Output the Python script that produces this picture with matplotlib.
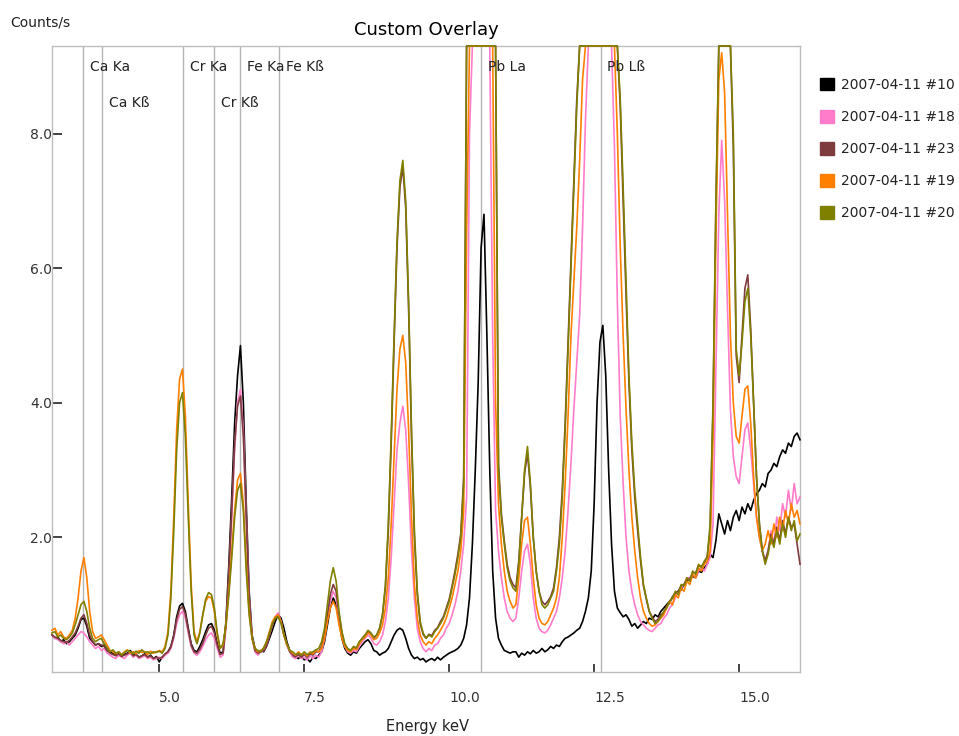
import numpy as np
import matplotlib
matplotlib.use("Agg")
import matplotlib.pyplot as plt
from matplotlib.patches import Patch

# Spectrum channels: 3.15 keV to 16.05 keV in 0.05 keV steps
energy_kev = np.round(3.15 + 0.05 * np.arange(259), 2)

# Counts/s (values at the top are saturated at 9.3)
counts_10 = [
    0.55, 0.50, 0.52, 0.45, 0.48, 0.42, 0.45, 0.50, 0.55, 0.65, 0.78, 0.80, 0.68, 0.50, 0.45, 0.40, 0.42, 0.38, 0.40, 0.32,
    0.30, 0.28, 0.25, 0.27, 0.24, 0.26, 0.28, 0.32, 0.25, 0.26, 0.22, 0.24, 0.27, 0.22, 0.25, 0.20, 0.23, 0.15, 0.22, 0.26,
    0.30, 0.38, 0.55, 0.82, 0.98, 1.02, 0.90, 0.65, 0.42, 0.32, 0.30, 0.38, 0.48, 0.60, 0.70, 0.72, 0.62, 0.42, 0.28, 0.30,
    0.75, 1.60, 2.60, 3.70, 4.40, 4.85, 4.00, 2.50, 1.20, 0.55, 0.35, 0.30, 0.32, 0.30, 0.38, 0.50, 0.62, 0.75, 0.85, 0.80,
    0.65, 0.45, 0.32, 0.25, 0.22, 0.20, 0.24, 0.18, 0.20, 0.15, 0.22, 0.20, 0.25, 0.30, 0.45, 0.70, 0.95, 1.10, 1.00, 0.75,
    0.50, 0.35, 0.28, 0.25, 0.30, 0.28, 0.35, 0.40, 0.45, 0.48, 0.42, 0.32, 0.30, 0.25, 0.28, 0.30, 0.35, 0.45, 0.55, 0.62,
    0.65, 0.62, 0.50, 0.35, 0.25, 0.20, 0.22, 0.18, 0.20, 0.15, 0.18, 0.20, 0.17, 0.22, 0.18, 0.22, 0.25, 0.28, 0.30, 0.32,
    0.35, 0.40, 0.50, 0.70, 1.10, 1.90, 3.00, 4.30, 6.30, 6.80, 5.00, 3.00, 1.50, 0.80, 0.50, 0.40, 0.32, 0.30, 0.28, 0.30,
    0.30, 0.22, 0.28, 0.25, 0.30, 0.27, 0.32, 0.28, 0.30, 0.35, 0.30, 0.33, 0.38, 0.35, 0.40, 0.38, 0.45, 0.50, 0.52, 0.55,
    0.58, 0.62, 0.65, 0.75, 0.90, 1.10, 1.50, 2.50, 4.00, 4.90, 5.15, 4.40, 3.00, 1.90, 1.20, 0.95, 0.88, 0.82, 0.85, 0.78,
    0.68, 0.72, 0.65, 0.70, 0.75, 0.72, 0.80, 0.78, 0.85, 0.82, 0.90, 0.95, 1.00, 1.05, 1.10, 1.15, 1.20, 1.22, 1.30, 1.35,
    1.38, 1.42, 1.40, 1.50, 1.48, 1.55, 1.60, 1.75, 1.70, 1.95, 2.35, 2.20, 2.05, 2.25, 2.10, 2.30, 2.40, 2.25, 2.45, 2.35,
    2.50, 2.40, 2.55, 2.65, 2.70, 2.80, 2.75, 2.95, 3.00, 3.10, 3.05, 3.20, 3.30, 3.25, 3.40, 3.35, 3.50, 3.55, 3.45,
]
counts_18 = [
    0.55, 0.50, 0.48, 0.45, 0.42, 0.45, 0.40, 0.45, 0.50, 0.55, 0.60, 0.58, 0.52, 0.45, 0.40, 0.35, 0.38, 0.32, 0.35, 0.28,
    0.25, 0.22, 0.20, 0.25, 0.22, 0.20, 0.25, 0.28, 0.22, 0.25, 0.20, 0.22, 0.24, 0.20, 0.22, 0.18, 0.20, 0.22, 0.20, 0.25,
    0.28, 0.35, 0.50, 0.72, 0.85, 0.90, 0.80, 0.58, 0.38, 0.28, 0.25, 0.30, 0.38, 0.48, 0.55, 0.58, 0.50, 0.35, 0.22, 0.25,
    0.65, 1.40, 2.30, 3.30, 4.00, 4.20, 3.60, 2.30, 1.10, 0.50, 0.30, 0.25, 0.30, 0.32, 0.40, 0.55, 0.70, 0.82, 0.88, 0.75,
    0.55, 0.40, 0.30, 0.22, 0.20, 0.25, 0.20, 0.22, 0.18, 0.24, 0.20, 0.25, 0.22, 0.30, 0.50, 0.80, 1.05, 1.20, 1.10, 0.80,
    0.55, 0.38, 0.30, 0.28, 0.32, 0.30, 0.38, 0.45, 0.50, 0.55, 0.50, 0.42, 0.40, 0.45, 0.55, 0.75, 1.10, 1.70, 2.50, 3.30,
    3.70, 3.95, 3.60, 2.80, 1.80, 1.10, 0.65, 0.45, 0.35, 0.30, 0.35, 0.32, 0.40, 0.42, 0.50, 0.55, 0.65, 0.72, 0.85, 1.00,
    1.20, 1.50, 1.90, 2.60, 8.00, 9.30, 9.30, 9.30, 9.30, 9.30, 9.30, 9.30, 5.00, 2.40, 1.80, 1.40, 1.10, 0.90, 0.80, 0.75,
    0.80, 1.10, 1.50, 1.80, 1.90, 1.60, 1.10, 0.80, 0.65, 0.60, 0.58, 0.62, 0.70, 0.80, 0.90, 1.10, 1.40, 1.80, 2.40, 3.10,
    3.90, 4.60, 5.30, 6.60, 8.20, 9.30, 9.30, 9.30, 9.30, 9.30, 9.30, 9.30, 9.30, 9.30, 7.80, 5.50, 3.80, 2.80, 2.00, 1.50,
    1.20, 1.00, 0.85, 0.75, 0.70, 0.65, 0.62, 0.60, 0.65, 0.70, 0.72, 0.80, 0.85, 0.95, 1.00, 1.10, 1.20, 1.25, 1.30, 1.40,
    1.40, 1.45, 1.40, 1.50, 1.55, 1.50, 1.60, 1.70, 2.20, 4.50, 6.80, 7.90, 7.00, 5.40, 3.90, 3.20, 2.90, 2.80, 3.20, 3.60,
    3.70, 3.30, 2.80, 2.30, 2.00, 1.80, 1.65, 1.80, 2.10, 1.90, 2.30, 2.10, 2.50, 2.30, 2.70, 2.40, 2.80, 2.50, 2.60,
]
counts_23 = [
    0.55, 0.52, 0.50, 0.47, 0.45, 0.44, 0.47, 0.52, 0.58, 0.68, 0.80, 0.85, 0.72, 0.55, 0.45, 0.40, 0.42, 0.40, 0.38, 0.32,
    0.28, 0.26, 0.24, 0.27, 0.23, 0.25, 0.27, 0.30, 0.24, 0.26, 0.22, 0.24, 0.26, 0.22, 0.24, 0.20, 0.22, 0.20, 0.22, 0.27,
    0.30, 0.37, 0.53, 0.78, 0.93, 0.97, 0.86, 0.62, 0.40, 0.30, 0.28, 0.34, 0.43, 0.55, 0.65, 0.68, 0.58, 0.40, 0.26, 0.28,
    0.70, 1.45, 2.40, 3.40, 3.95, 4.10, 3.50, 2.30, 1.10, 0.52, 0.32, 0.28, 0.30, 0.32, 0.40, 0.55, 0.70, 0.80, 0.85, 0.75,
    0.55, 0.42, 0.30, 0.26, 0.23, 0.26, 0.22, 0.26, 0.22, 0.27, 0.25, 0.30, 0.30, 0.38, 0.55, 0.85, 1.15, 1.30, 1.20, 0.85,
    0.58, 0.40, 0.34, 0.31, 0.36, 0.35, 0.44, 0.50, 0.55, 0.60, 0.57, 0.50, 0.55, 0.65, 0.85, 1.25, 2.10, 3.40, 4.90, 6.30,
    7.20, 7.50, 6.90, 5.40, 3.50, 2.00, 1.15, 0.72, 0.56, 0.50, 0.56, 0.54, 0.62, 0.66, 0.75, 0.82, 0.95, 1.08, 1.28, 1.50,
    1.75, 2.05, 2.90, 9.30, 9.30, 9.30, 9.30, 9.30, 9.30, 9.30, 9.30, 9.30, 9.30, 9.30, 3.10, 2.35, 1.95, 1.60, 1.40, 1.30,
    1.25, 1.65, 2.30, 2.95, 3.25, 2.75, 2.00, 1.50, 1.20, 1.05, 1.00, 1.05, 1.12, 1.25, 1.55, 2.00, 2.70, 3.70, 4.90, 6.10,
    7.30, 8.50, 9.30, 9.30, 9.30, 9.30, 9.30, 9.30, 9.30, 9.30, 9.30, 9.30, 9.30, 9.30, 9.30, 9.30, 8.40, 7.00, 5.60, 4.30,
    3.30, 2.60, 2.10, 1.65, 1.28, 1.08, 0.90, 0.82, 0.75, 0.78, 0.85, 0.88, 0.98, 1.02, 1.12, 1.18, 1.20, 1.28, 1.30, 1.38,
    1.38, 1.48, 1.47, 1.58, 1.57, 1.62, 1.72, 2.10, 3.90, 6.90, 9.30, 9.30, 9.30, 9.30, 9.30, 7.80, 4.70, 4.30, 5.00, 5.70,
    5.90, 5.10, 4.00, 2.90, 2.20, 1.80, 1.65, 1.80, 2.05, 1.90, 2.15, 1.95, 2.25, 2.05, 2.30, 2.15, 2.20, 1.90, 1.60,
]
counts_19 = [
    0.62, 0.65, 0.55, 0.60, 0.52, 0.50, 0.55, 0.62, 0.80, 1.10, 1.50, 1.70, 1.40, 0.90, 0.60, 0.50, 0.52, 0.55, 0.48, 0.40,
    0.32, 0.30, 0.27, 0.30, 0.26, 0.30, 0.33, 0.28, 0.30, 0.27, 0.32, 0.29, 0.30, 0.26, 0.31, 0.28, 0.30, 0.32, 0.30, 0.38,
    0.60, 1.20, 2.30, 3.60, 4.35, 4.50, 3.80, 2.50, 1.30, 0.60, 0.45, 0.60, 0.85, 1.05, 1.12, 1.10, 0.90, 0.55, 0.35, 0.40,
    0.70, 1.20, 1.80, 2.40, 2.85, 2.95, 2.50, 1.60, 0.90, 0.50, 0.35, 0.30, 0.32, 0.35, 0.45, 0.60, 0.75, 0.82, 0.85, 0.75,
    0.55, 0.40, 0.32, 0.28, 0.25, 0.30, 0.26, 0.28, 0.24, 0.30, 0.27, 0.32, 0.30, 0.35, 0.50, 0.75, 0.95, 1.05, 0.95, 0.70,
    0.50, 0.38, 0.32, 0.30, 0.35, 0.33, 0.42, 0.48, 0.52, 0.58, 0.55, 0.48, 0.50, 0.58, 0.70, 0.95, 1.40, 2.20, 3.20, 4.20,
    4.80, 5.00, 4.60, 3.60, 2.30, 1.30, 0.80, 0.55, 0.45, 0.40, 0.45, 0.42, 0.50, 0.55, 0.62, 0.70, 0.80, 0.95, 1.10, 1.30,
    1.50, 1.80, 2.40, 6.50, 9.30, 9.30, 9.30, 9.30, 9.30, 9.30, 9.30, 9.30, 9.30, 4.00, 2.50, 1.90, 1.50, 1.20, 1.05, 0.95,
    1.00, 1.40, 1.90, 2.25, 2.30, 1.90, 1.40, 1.00, 0.80, 0.72, 0.70, 0.75, 0.85, 0.95, 1.10, 1.40, 2.00, 2.80, 3.80, 5.00,
    5.80, 6.60, 7.60, 8.80, 9.30, 9.30, 9.30, 9.30, 9.30, 9.30, 9.30, 9.30, 9.30, 9.30, 9.30, 8.00, 6.30, 5.00, 3.90, 3.00,
    2.30, 1.80, 1.40, 1.10, 0.90, 0.80, 0.72, 0.68, 0.70, 0.75, 0.80, 0.85, 0.95, 1.05, 1.00, 1.15, 1.10, 1.25, 1.20, 1.35,
    1.30, 1.45, 1.40, 1.55, 1.50, 1.60, 1.65, 1.80, 3.50, 6.50, 8.80, 9.20, 8.60, 6.80, 5.00, 4.00, 3.50, 3.40, 3.80, 4.20,
    4.25, 3.70, 2.90, 2.30, 2.00, 1.80, 1.90, 2.10, 1.90, 2.20, 2.00, 2.30, 2.10, 2.40, 2.20, 2.50, 2.30, 2.40, 2.20,
]
counts_20 = [
    0.58, 0.60, 0.52, 0.55, 0.50, 0.48, 0.52, 0.58, 0.70, 0.85, 1.00, 1.05, 0.90, 0.65, 0.50, 0.45, 0.48, 0.50, 0.42, 0.36,
    0.30, 0.33, 0.28, 0.30, 0.25, 0.29, 0.32, 0.30, 0.27, 0.31, 0.28, 0.33, 0.29, 0.30, 0.27, 0.30, 0.29, 0.31, 0.28, 0.35,
    0.55, 1.10, 2.10, 3.30, 4.00, 4.15, 3.50, 2.30, 1.20, 0.55, 0.42, 0.58, 0.85, 1.08, 1.18, 1.15, 0.95, 0.58, 0.35, 0.42,
    0.70, 1.15, 1.70, 2.30, 2.70, 2.80, 2.40, 1.50, 0.85, 0.50, 0.35, 0.32, 0.30, 0.36, 0.45, 0.58, 0.72, 0.80, 0.82, 0.72,
    0.55, 0.42, 0.32, 0.30, 0.26, 0.28, 0.25, 0.30, 0.26, 0.28, 0.30, 0.33, 0.35, 0.45, 0.65, 1.00, 1.35, 1.55, 1.35, 0.90,
    0.60, 0.42, 0.35, 0.32, 0.38, 0.36, 0.45, 0.50, 0.55, 0.62, 0.58, 0.52, 0.55, 0.65, 0.85, 1.30, 2.20, 3.50, 5.00, 6.40,
    7.30, 7.60, 7.00, 5.50, 3.60, 2.10, 1.20, 0.75, 0.58, 0.50, 0.55, 0.52, 0.60, 0.65, 0.72, 0.80, 0.92, 1.05, 1.25, 1.45,
    1.70, 2.00, 2.80, 9.30, 9.30, 9.30, 9.30, 9.30, 9.30, 9.30, 9.30, 9.30, 9.30, 9.30, 3.00, 2.30, 1.90, 1.55, 1.35, 1.25,
    1.20, 1.60, 2.30, 3.00, 3.35, 2.80, 2.00, 1.50, 1.20, 1.00, 0.95, 1.00, 1.10, 1.20, 1.50, 1.90, 2.60, 3.60, 4.80, 6.00,
    7.20, 8.40, 9.30, 9.30, 9.30, 9.30, 9.30, 9.30, 9.30, 9.30, 9.30, 9.30, 9.30, 9.30, 9.30, 9.30, 8.50, 7.20, 5.80, 4.40,
    3.40, 2.70, 2.20, 1.70, 1.30, 1.10, 0.90, 0.80, 0.72, 0.75, 0.82, 0.90, 0.95, 1.05, 1.10, 1.20, 1.15, 1.30, 1.28, 1.40,
    1.35, 1.50, 1.45, 1.60, 1.55, 1.65, 1.70, 2.20, 4.00, 7.00, 9.30, 9.30, 9.30, 9.30, 9.30, 8.00, 4.80, 4.40, 4.90, 5.50,
    5.70, 5.00, 4.00, 2.90, 2.20, 1.80, 1.60, 1.75, 2.00, 1.85, 2.10, 1.90, 2.20, 2.00, 2.30, 2.10, 2.25, 1.95, 2.05,
]

series_labels = ["2007-04-11 #10", "2007-04-11 #18", "2007-04-11 #23",
                 "2007-04-11 #19", "2007-04-11 #20"]
series_colors = ["#000000", "#ff7ccb", "#7f3c3f", "#ff8000", "#808000"]

# Element marker lines
line_names = ["Ca Ka", "Ca Kß", "Cr Ka", "Cr Kß", "Fe Ka", "Fe Kß", "Pb La", "Pb Lß"]
line_energies = [3.69, 4.01, 5.41, 5.95, 6.40, 7.06, 10.55, 12.61]
line_rows = [0, 1, 0, 1, 0, 0, 0, 0]

x_ticks = [5.0, 7.5, 10.0, 12.5, 15.0]
y_ticks = [2.0, 4.0, 6.0, 8.0]

fig = plt.figure(figsize=(9.59, 7.36), dpi=100)
ax = fig.add_axes([52 / 959, 64 / 736, 748 / 959, 626 / 736])

for e in line_energies:
    ax.axvline(e, color="#b4b4b4", lw=1.0, zorder=1)

for name, e, row in zip(line_names, line_energies, line_rows):
    ax.annotate(name, xy=(e, 0.966 - 0.057 * row), xycoords=("data", "axes fraction"),
                xytext=(5, 0), textcoords="offset points", va="center", ha="left",
                fontsize=10, color="#222222", zorder=6)

all_counts = [counts_10, counts_18, counts_23, counts_19, counts_20]
for counts, col in zip(all_counts, series_colors):
    ax.plot(energy_kev, counts, color=col, lw=1.2, zorder=3, clip_on=False)

ax.set_xlim(3.15, 16.05)
ax.set_ylim(0, 9.3)

for s in ax.spines.values():
    s.set_color("#bdbdbd")
    s.set_linewidth(1.0)

ax.set_xticks(x_ticks)
ax.set_xticklabels([f"{v:.1f}" for v in x_ticks])
for lab in ax.get_xticklabels():
    lab.set_ha("left")
ax.set_yticks(y_ticks)
ax.set_yticklabels([f"{v:.1f}" for v in y_ticks])
ax.tick_params(axis="x", direction="in", length=6, width=1.2, color="#222222",
               pad=14, labelsize=10, labelcolor="#333333")
ax.tick_params(axis="y", direction="in", length=7, width=1.2, color="#222222",
               pad=0, labelsize=10, labelcolor="#333333")

ax.set_title("Custom Overlay", fontsize=13, pad=8)
fig.text(10 / 959, 1 - 22 / 736, "Counts/s", fontsize=10, ha="left", va="center", color="#222222")
fig.text(428 / 959, 1 - 726 / 736, "Energy keV", fontsize=10.5, ha="center", va="center", color="#222222")

handles = [Patch(facecolor=c, edgecolor=c) for c in series_colors]
fig.legend(handles, series_labels, loc="upper left", bbox_to_anchor=(820 / 959, 1 - 78 / 736),
           frameon=False, fontsize=10, handlelength=1.0, handleheight=1.0,
           handletextpad=0.5, labelspacing=1.3, borderpad=0, borderaxespad=0,
           labelcolor="#222222")

fig.savefig("out.png", dpi=100)
